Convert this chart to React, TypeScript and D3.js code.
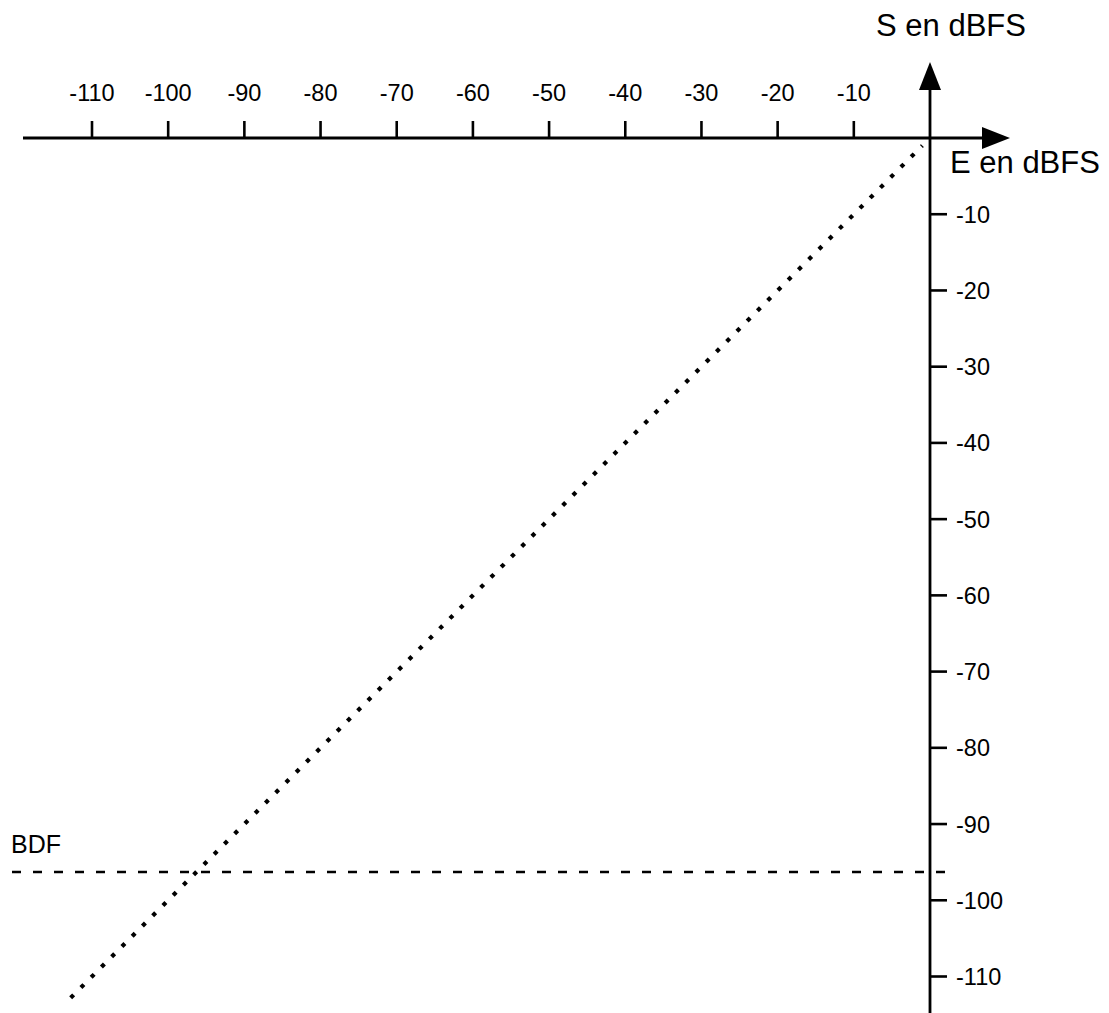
import React from "react";
import * as d3 from "d3";

// E (input) ticks along the top axis, S (output) ticks down the right axis
const xTicks = [-110, -100, -90, -80, -70, -60, -50, -40, -30, -20, -10];
const yTicks = [-10, -20, -30, -40, -50, -60, -70, -80, -90, -100, -110];
// unity transfer line S = E
const identityLine: [number, number][] = [
  [-112.8, -112.8],
  [-1, -1],
];
const bdfLevel = -96.3;
const bdfLabel = "BDF";
const xTitle = "E en dBFS";
const yTitle = "S en dBFS";

const W = 1109;
const H = 1013;
const FONT = "'Liberation Sans', Arial, Helvetica, sans-serif";

const App: React.FC = () => {
  const x = d3.scaleLinear().domain([-110, 0]).range([92, 930]);
  const y = d3.scaleLinear().domain([0, -110]).range([138, 976.5]);

  const x0 = x(0);
  const y0 = y(0);
  const tick = 17;

  const line = d3
    .line<[number, number]>()
    .x((d) => x(d[0]))
    .y((d) => y(d[1]));

  return (
    <svg
      width={W}
      height={H}
      style={{ position: "absolute", left: 0, top: 0, background: "#fff" }}
      fontFamily={FONT}
    >
      {/* identity dotted line */}
      <path
        d={line(identityLine) || ""}
        fill="none"
        stroke="#000"
        strokeWidth={4.2}
        strokeDasharray="4.2 10.3"
      />

      {/* BDF level */}
      <line
        x1={12}
        x2={x0 + tick}
        y1={y(bdfLevel)}
        y2={y(bdfLevel)}
        stroke="#000"
        strokeWidth={2.4}
        strokeDasharray="9 12"
      />
      <text x={11} y={y(bdfLevel) - 19} fontSize={25} fill="#000">
        {bdfLabel}
      </text>

      {/* x axis */}
      <line x1={23} x2={984} y1={y0} y2={y0} stroke="#000" strokeWidth={2.8} />
      <path
        d={`M1010,${y0} L982,${y0 - 11} L982,${y0 + 11} Z`}
        fill="#000"
      />
      {xTicks.map((t) => (
        <g key={t}>
          <line
            x1={x(t)}
            x2={x(t)}
            y1={y0}
            y2={y0 - tick}
            stroke="#000"
            strokeWidth={2.6}
          />
          <text
            x={x(t)}
            y={101}
            textAnchor="middle"
            fontSize={23.5}
            fill="#000"
          >
            {t}
          </text>
        </g>
      ))}
      <text x={950} y={173} fontSize={31} fill="#000">
        {xTitle}
      </text>

      {/* y axis */}
      <line x1={x0} x2={x0} y1={88} y2={H} stroke="#000" strokeWidth={2.8} />
      <path d={`M${x0},62 L${x0 - 11},90 L${x0 + 11},90 Z`} fill="#000" />
      {yTicks.map((t) => (
        <g key={t}>
          <line
            x1={x0}
            x2={x0 + tick}
            y1={y(t)}
            y2={y(t)}
            stroke="#000"
            strokeWidth={2.6}
          />
          <text
            x={956}
            y={y(t)}
            dy="0.36em"
            fontSize={23.5}
            fill="#000"
          >
            {t}
          </text>
        </g>
      ))}
      <text
        x={951}
        y={36}
        textAnchor="middle"
        fontSize={31}
        fill="#000"
      >
        {yTitle}
      </text>
    </svg>
  );
};

export default App;
